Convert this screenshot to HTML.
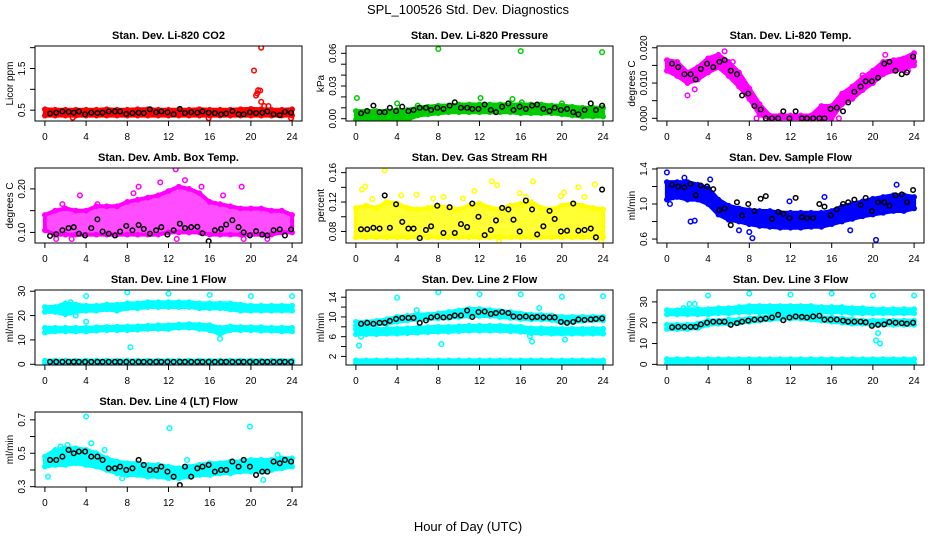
<!DOCTYPE html>
<html><head><meta charset="utf-8"><style>
html,body{margin:0;padding:0;background:#fff;}
svg{display:block;font-family:"Liberation Sans",sans-serif;}
</style></head><body>
<svg id="chart" width="936" height="540" viewBox="0 0 936 540" xmlns="http://www.w3.org/2000/svg">
<rect width="936" height="540" fill="#fff"/>
<text x="468" y="14" text-anchor="middle" font-size="13">SPL_100526  Std. Dev. Diagnostics</text>
<text x="468" y="531" text-anchor="middle" font-size="13">Hour of Day (UTC)</text>
<g id="panels"></g>
</svg>
<script>
const hrs=[0,1,2,3,4,5,6,7,8,9,10,11,12,13,14,15,16,17,18,19,20,21,22,23,24];
const bh=[0.5,1.1,1.7,2.3,2.8,3.3,3.9,4.5,5.1,5.6,6.2,6.8,7.3,7.9,8.5,9.1,9.6,10.2,10.8,11.3,11.9,12.5,13.1,13.6,14.2,14.8,15.3,15.9,16.5,17.1,17.6,18.2,18.8,19.3,19.9,20.5,21.1,21.6,22.2,22.8,23.3,23.9];
const xTicks=[0,4,8,12,16,20,24];

// P1 CO2
const p1Lo=[0.37,0.37,0.37,0.37,0.37,0.37,0.37,0.37,0.37,0.37,0.37,0.37,0.37,0.37,0.37,0.37,0.37,0.37,0.37,0.37,0.37,0.37,0.37,0.37,0.37];
const p1Hi=[0.52,0.51,0.51,0.51,0.51,0.51,0.52,0.51,0.51,0.52,0.52,0.51,0.51,0.51,0.51,0.52,0.51,0.51,0.51,0.52,0.53,0.52,0.51,0.51,0.52];
const p1OutX=[20.3,21.0,20.5,20.7,20.9,21.0,21.3,21.7,20.6,15.9,23.9,2.7];
const p1OutY=[1.45,2.0,0.85,0.98,0.97,0.7,0.6,0.6,0.9,0.31,0.31,0.32];
const p1Blk=[0.42,0.44,0.47,0.46,0.44,0.47,0.40,0.44,0.43,0.44,0.47,0.47,0.47,0.41,0.43,0.44,0.43,0.52,0.45,0.47,0.45,0.40,0.53,0.43,0.45,0.44,0.47,0.44,0.43,0.40,0.42,0.48,0.40,0.40,0.45,0.43,0.44,0.47,0.40,0.38,0.46,0.44];
// P2 Pressure
const p2Lo=[-0.001,-0.001,-0.001,-0.001,-0.001,-0.001,0.003,0.004,0.005,0.006,0.006,0.006,0.006,0.006,0.006,0.006,0.005,0.005,0.005,0.005,0.004,0.003,0.002,0.002,0.002];
const p2Hi=[0.007,0.007,0.007,0.007,0.008,0.008,0.010,0.011,0.012,0.012,0.013,0.013,0.013,0.013,0.013,0.013,0.013,0.013,0.013,0.012,0.012,0.011,0.010,0.010,0.010];
const p2OutX=[0.1,4.0,8.0,12.1,15.2,16.0,16.1,20.0,23.9,6.0];
const p2OutY=[0.019,0.014,0.064,0.019,0.018,0.062,0.015,0.014,0.061,0.012];
const p2Blk=[0.005,0.007,0.012,0.006,0.006,0.010,0.007,0.011,0.007,0.008,0.010,0.010,0.008,0.010,0.009,0.012,0.015,0.010,0.010,0.009,0.009,0.013,0.008,0.006,0.011,0.014,0.008,0.011,0.009,0.012,0.013,0.009,0.007,0.010,0.008,0.009,0.006,0.004,0.008,0.014,0.008,0.012];
// P3 Temp
const p3Lo=[0.0135,0.012,0.010,0.011,0.013,0.0145,0.012,0.009,0.0055,0.001,0,0,0,0,0,0,0,0.004,0.0055,0.008,0.010,0.0125,0.0135,0.014,0.015];
const p3Hi=[0.0165,0.016,0.013,0.0145,0.017,0.018,0.016,0.013,0.0085,0.004,0.0008,0.0008,0.0008,0.0008,0.0008,0.0035,0.0035,0.007,0.009,0.0115,0.0135,0.016,0.0165,0.017,0.0185];
const p3OutX=[2.0,2.7,5.6,6.4,8.7,16.7,19.0,21.2,23.4,24.0];
const p3OutY=[0.0065,0.0082,0.0190,0.0160,0.0000,0.0000,0.0122,0.0180,0.0135,0.0160];
const p3Blk=[0.0155,0.0145,0.0125,0.0125,0.0110,0.0140,0.0155,0.0145,0.0160,0.0165,0.0135,0.0125,0.0065,0.0070,0.0035,0.0025,0,0,0,0.002,0,0.002,0,0,0,0,0,0.0027,0.0030,0.0020,0.0045,0.0075,0.0090,0.0105,0.0105,0.0115,0.0155,0.0160,0.0135,0.0125,0.0130,0.0175];
// P4 Amb Box Temp
const p4Lo=[0.105,0.095,0.095,0.095,0.095,0.095,0.095,0.095,0.095,0.095,0.095,0.095,0.10,0.10,0.10,0.10,0.095,0.095,0.095,0.095,0.095,0.095,0.095,0.10,0.10];
const p4Hi=[0.14,0.15,0.155,0.15,0.15,0.16,0.16,0.16,0.17,0.175,0.18,0.185,0.195,0.205,0.20,0.19,0.17,0.165,0.16,0.155,0.155,0.155,0.15,0.15,0.14];
const p4OutX=[12.7,11.2,9.1,19.1,17.3,13.6,3.4,1.7,5.1,2.6,12.8,21.6,19.3,1.1,8.6,15.2];
const p4OutY=[0.245,0.215,0.205,0.205,0.185,0.22,0.185,0.165,0.165,0.085,0.085,0.085,0.085,0.085,0.19,0.205];
const p4Blk=[0.092,0.096,0.105,0.110,0.112,0.097,0.093,0.110,0.130,0.102,0.097,0.093,0.102,0.115,0.105,0.117,0.108,0.097,0.105,0.112,0.095,0.105,0.120,0.110,0.112,0.113,0.098,0.080,0.105,0.108,0.118,0.128,0.112,0.100,0.093,0.103,0.095,0.093,0.105,0.107,0.093,0.107];
// P5 Gas Stream RH
const p5Lo=[0.072,0.072,0.072,0.072,0.072,0.072,0.072,0.072,0.072,0.072,0.072,0.072,0.072,0.072,0.072,0.072,0.072,0.072,0.072,0.072,0.072,0.072,0.072,0.072,0.072];
const p5Hi=[0.112,0.115,0.112,0.12,0.118,0.112,0.11,0.112,0.115,0.112,0.11,0.115,0.118,0.112,0.11,0.115,0.118,0.12,0.112,0.11,0.115,0.118,0.115,0.112,0.11];
const p5OutX=[2.8,13.2,17.2,0.9,0.6,11.5,13.7,15.9,21.6,23.2,5.9,4.4,8.5,10.4,19.9,22.2,16.5,1.6,7.5,20.2,13.9,23.8];
const p5OutY=[0.163,0.148,0.148,0.141,0.137,0.135,0.143,0.132,0.140,0.144,0.130,0.129,0.127,0.125,0.128,0.127,0.127,0.124,0.125,0.133,0.067,0.066];
const p5Blk=[0.083,0.083,0.085,0.084,0.129,0.085,0.117,0.093,0.084,0.084,0.071,0.082,0.087,0.115,0.078,0.113,0.078,0.090,0.086,0.118,0.100,0.075,0.082,0.095,0.112,0.110,0.096,0.080,0.122,0.110,0.076,0.087,0.108,0.097,0.080,0.081,0.118,0.081,0.082,0.084,0.072,0.137];
// P6 Sample Flow
const p6Lo=[1.05,1.08,1.05,1.05,1.00,0.88,0.82,0.80,0.77,0.75,0.74,0.73,0.73,0.73,0.74,0.74,0.77,0.80,0.83,0.86,0.88,0.90,0.92,0.92,0.95];
const p6Hi=[1.25,1.25,1.25,1.22,1.18,1.05,0.98,0.95,0.93,0.92,0.92,0.90,0.90,0.90,0.90,0.90,0.92,0.97,1.00,1.03,1.06,1.08,1.10,1.10,1.08];
const p6OutX=[0,1.7,2.3,2.7,4.2,8.0,8.3,20.3,22.3,15.3,7.0,17.8,0.3,11.9];
const p6OutY=[1.36,1.30,0.80,0.81,1.28,0.68,0.61,0.59,1.22,1.08,0.70,0.70,1.00,1.03];
const p6Blk=[1.22,1.20,1.19,1.23,1.10,1.21,1.20,1.17,0.93,0.95,0.76,1.02,0.87,1.00,0.92,1.06,1.09,0.83,0.91,0.89,0.84,1.07,0.85,0.84,0.84,1.00,0.97,0.87,0.94,1.00,1.02,1.05,0.99,1.07,0.92,1.02,1.02,0.98,1.10,1.11,1.02,1.16];
// P7 Line 1 Flow
const p7aLo=[21.5,21.5,20.5,21.5,22,22,22.5,22,23,23,23.5,23.5,23.5,23.5,23.5,23,23,23,22.5,22,22,22,22,22,22];
const p7aHi=[23.5,23.5,25,24.5,24,24,24.5,24.5,25,25,25.5,25.5,25.5,25.5,25.5,25,25,25,25,24.5,24,24,24,24,24];
const p7bLo=[13,13.5,13.5,13.5,13.5,13.8,14,14,14,14.2,14.5,14.5,14.5,15,15,14.5,14,12.5,14,14,14,13.8,13.8,13.5,13.5];
const p7bHi=[15,15,15,15,15,15.2,15.3,15.4,15.5,15.6,15.8,16,16,16.3,16.5,16.2,16,15,15.5,15.3,15.2,15.2,15,15,15];
const p7cLo=[0.3,0.3,0.3,0.3,0.3,0.3,0.3,0.3,0.3,0.3,0.3,0.3,0.3,0.3,0.3,0.3,0.3,0.3,0.3,0.3,0.3,0.3,0.3,0.3,0.3];
const p7cHi=[1.5,1.5,1.5,1.5,1.5,1.5,1.5,1.5,1.5,1.5,1.5,1.5,1.5,1.5,1.5,1.5,1.5,1.5,1.5,1.5,1.5,1.5,1.5,1.5,1.5];
const p7OutX=[4,8,12,16,20,24,4,8.3,17,2.5,3,1.7,0.2];
const p7OutY=[28,29.5,29,28.5,28,28,17.5,7,10.5,25.5,20,24,13.5];
const p7Blk=[1,1,1,1,1,1,1,1,1,1,1,1,1,1,1,1,1,1,1,1,1,1,1,1,1,1,1,1,1,1,1,1,1,1,1,1,1,1,1,1,1,1];
// P8 Line 2 Flow
const p8aLo=[8.2,8.3,8.5,8.7,9,9.3,9.5,9.6,9.7,9.8,10,10.2,10.2,10.2,10,9.8,9.6,9.5,9.5,9.4,8.9,9,9.2,9.3,9.3];
const p8aHi=[9,9,9.2,9.5,10,10.2,10.5,10.5,10.7,11,11.3,11.6,11.6,11.4,11.2,11,10.7,10.5,10.4,10.3,10,10,10,10,10];
const p8bLo=[6.5,6.5,6.5,6.6,6.6,6.7,6.8,6.9,7,7,7.1,7.2,7.2,7.2,7.2,7.1,7,6.7,6.7,6.6,6.6,6.6,6.6,6.6,6.6];
const p8bHi=[7.5,7.5,7.5,7.6,7.6,7.7,7.8,7.9,8,8,8.1,8.2,8.2,8.2,8.2,8.1,8,7.7,7.7,7.6,7.6,7.6,7.6,7.6,7.6];
const p8cLo=[0.6,0.6,0.6,0.6,0.6,0.6,0.6,0.6,0.6,0.6,0.6,0.6,0.6,0.6,0.6,0.6,0.6,0.6,0.6,0.6,0.6,0.6,0.6,0.6,0.6];
const p8cHi=[1.2,1.2,1.2,1.2,1.2,1.2,1.2,1.2,1.2,1.2,1.2,1.2,1.2,1.2,1.2,1.2,1.2,1.2,1.2,1.2,1.2,1.2,1.2,1.2,1.2];
const p8OutX=[4,8,12,16,20,24,0.3,8.3,17.1,20.3,5.9,17.8,0.5,16.9];
const p8OutY=[13.9,15,14.6,14.6,14.1,14.2,4.2,4.5,5,5.4,11.4,11.8,6,6.1];
const p8Blk=[8.6,8.8,8.6,8.8,8.8,9.2,9.6,9.8,9.8,9.8,8.8,9.3,9.9,10.1,9.9,10.0,10.3,10.3,11.3,10.0,11.0,11.1,10.6,10.8,11.0,10.8,10.1,10.0,10.1,9.9,10.0,9.9,9.9,9.9,9.0,8.8,9.0,9.5,9.4,9.5,9.6,9.7];
// P9 Line 3 Flow
const p9aLo=[24,24,24,24,24,24.5,24.5,25,25,25,25,25,25,25,25,25,25,25,24.5,24.5,24.5,24.5,24.5,24.5,24.5];
const p9aHi=[26,26,26.5,26.5,26.5,27,27,27.5,28,28,28,28,28,28,28,27.5,27.5,27.5,27,27,26.5,26.5,26.5,26.5,26.5];
const p9bLo=[17,17,17,17.5,19,19.5,19.5,20,20.5,21,21.5,22,22,22,21.5,21,20.5,20,19.5,19.5,19,19,19,19,19];
const p9bHi=[19,19,19,19.5,21,21,21.5,21.5,22,22.5,23,24,24,23.5,23,22.5,22.5,22,21.5,21,21,21,21,21,21];
const p9cLo=[0.5,0.5,0.5,0.5,0.5,0.5,0.5,0.5,0.5,0.5,0.5,0.5,0.5,0.5,0.5,0.5,0.5,0.5,0.5,0.5,0.5,0.5,0.5,0.5,0.5];
const p9cHi=[2.5,2.5,2.5,2.5,2.5,2.5,2.5,2.5,2.5,2.5,2.5,2.5,2.5,2.5,2.5,2.5,2.5,2.5,2.5,2.5,2.5,2.5,2.5,2.5,2.5];
const p9OutX=[4,8,12,16,20,24,2.2,1.6,20.3,20.7,20.5,2.7,5.2];
const p9OutY=[33,34,33.5,34,33,33,29,27,11.5,10,15,29,0];
const p9Blk=[17.8,18.0,18.0,18.0,18.0,19.2,20.0,20.5,20.5,20.5,19.0,19.8,20.5,21.0,21.5,21.6,22.0,22.5,23.8,21.2,22.5,23.0,22.8,22.5,23.0,23.3,21.5,21.5,21.5,21.0,20.5,20.5,20.5,20.2,18.5,19.0,19.2,20.3,20.0,19.8,19.5,20.0];
// P10 Line 4 (LT) Flow
const p10Lo=[0.42,0.43,0.43,0.44,0.43,0.42,0.40,0.38,0.37,0.37,0.36,0.36,0.35,0.35,0.36,0.37,0.37,0.38,0.38,0.39,0.39,0.39,0.40,0.41,0.42];
const p10Hi=[0.48,0.52,0.53,0.53,0.52,0.50,0.47,0.45,0.44,0.44,0.43,0.43,0.42,0.41,0.42,0.43,0.44,0.44,0.45,0.45,0.46,0.46,0.46,0.47,0.47];
const p10OutX=[4,12.1,19.9,4.5,0.3,13.8,21.2,7.5,22.6,2.2,1.5,5.8];
const p10OutY=[0.72,0.65,0.66,0.56,0.36,0.46,0.34,0.35,0.49,0.55,0.54,0.52];
const p10Blk=[0.46,0.46,0.48,0.52,0.50,0.51,0.51,0.48,0.48,0.46,0.41,0.41,0.42,0.40,0.41,0.46,0.43,0.40,0.40,0.42,0.39,0.36,0.31,0.42,0.36,0.41,0.42,0.43,0.39,0.40,0.40,0.45,0.42,0.46,0.42,0.37,0.39,0.39,0.45,0.44,0.46,0.45];

const panels=[
 {name:'co2',title:'Stan. Dev. Li-820 CO2',yl:'Licor ppm',col:0,row:0,ymin:0.24,ymax:2.04,ticks:[0.5,1.0,1.5,2.0],labels:[0.5,1.5],fmt:1,color:'#ff0000',bands:[[p1Lo,p1Hi]],ox:p1OutX,oy:p1OutY,blk:p1Blk,op:1},
 {name:'pressure',title:'Stan. Dev. Li-820 Pressure',yl:'kPa',col:1,row:0,ymin:-0.0021,ymax:0.0667,ticks:[0,0.01,0.02,0.03,0.04,0.05,0.06],labels:[0,0.03,0.06],fmt:2,color:'#00cc00',bands:[[p2Lo,p2Hi]],ox:p2OutX,oy:p2OutY,blk:p2Blk,op:1},
 {name:'temp',title:'Stan. Dev. Li-820 Temp.',yl:'degrees C',col:2,row:0,ymin:-0.00076,ymax:0.0205,ticks:[0,0.005,0.01,0.015,0.02],labels:[0,0.01,0.02],fmt:3,color:'#ff00ff',bands:[[p3Lo,p3Hi]],ox:p3OutX,oy:p3OutY,blk:p3Blk,op:1},
 {name:'amb-box',title:'Stan. Dev. Amb. Box Temp.',yl:'degrees C',col:0,row:1,ymin:0.0757,ymax:0.248,ticks:[0.10,0.15,0.20],labels:[0.10,0.20],fmt:2,color:'#ff00ff',bands:[[p4Lo,p4Hi]],ox:p4OutX,oy:p4OutY,blk:p4Blk,op:0.7},
 {name:'gas-rh',title:'Stan. Dev. Gas Stream RH',yl:'percent',col:1,row:1,ymin:0.0643,ymax:0.1663,ticks:[0.08,0.10,0.12,0.14,0.16],labels:[0.08,0.12,0.16],fmt:2,color:'#ffff00',bands:[[p5Lo,p5Hi]],ox:p5OutX,oy:p5OutY,blk:p5Blk,op:0.8},
 {name:'sample-flow',title:'Stan. Dev. Sample Flow',yl:'ml/min',col:2,row:1,ymin:0.555,ymax:1.411,ticks:[0.6,0.8,1.0,1.2,1.4],labels:[0.6,1.0,1.4],fmt:1,color:'#0000ff',bands:[[p6Lo,p6Hi]],ox:p6OutX,oy:p6OutY,blk:p6Blk,op:1},
 {name:'line1',title:'Stan. Dev. Line 1 Flow',yl:'ml/min',col:0,row:2,ymin:-0.3,ymax:30.5,ticks:[0,10,20,30],labels:[0,10,20,30],fmt:0,color:'#00ffff',bands:[[p7aLo,p7aHi],[p7bLo,p7bHi],[p7cLo,p7cHi]],ox:p7OutX,oy:p7OutY,blk:p7Blk,op:1},
 {name:'line2',title:'Stan. Dev. Line 2 Flow',yl:'ml/min',col:1,row:2,ymin:0.26,ymax:15.46,ticks:[2,4,6,8,10,12,14],labels:[2,6,10,14],fmt:0,color:'#00ffff',bands:[[p8aLo,p8aHi],[p8bLo,p8bHi],[p8cLo,p8cHi]],ox:p8OutX,oy:p8OutY,blk:p8Blk,op:1},
 {name:'line3',title:'Stan. Dev. Line 3 Flow',yl:'ml/min',col:2,row:2,ymin:-0.3,ymax:35.7,ticks:[0,10,20,30],labels:[0,10,20,30],fmt:0,color:'#00ffff',bands:[[p9aLo,p9aHi],[p9bLo,p9bHi],[p9cLo,p9cHi]],ox:p9OutX,oy:p9OutY,blk:p9Blk,op:1},
 {name:'line4',title:'Stan. Dev. Line 4 (LT) Flow',yl:'ml/min',col:0,row:3,ymin:0.298,ymax:0.747,ticks:[0.3,0.4,0.5,0.6,0.7],labels:[0.3,0.5,0.7],fmt:1,color:'#00ffff',bands:[[p10Lo,p10Hi]],ox:p10OutX,oy:p10OutY,blk:p10Blk,op:1}
];
const colL=[35,346,657], colW=267, rowT=[46,168,290,412], rowH=75;
const NS='http://www.w3.org/2000/svg';
const root=document.getElementById('panels');
function mk(tag,attrs,parent){const e=document.createElementNS(NS,tag);for(const k in attrs)e.setAttribute(k,attrs[k]);parent.appendChild(e);return e;}
panels.forEach(p=>{
  const L=colL[p.col],T=rowT[p.row],W=colW,H=rowH;
  const xs=h=>L+(h+0.96)/25.92*W;
  const ys=v=>T+H-(v-p.ymin)/(p.ymax-p.ymin)*H;
  const g=mk('g',{},root);
  
  
  const clipId='clip-'+p.name;
  const cp=mk('clipPath',{id:clipId},g); mk('rect',{x:L,y:T,width:W,height:H},cp);
  const d=mk('g',{'clip-path':'url(#'+clipId+')'},g);
  
  
  p.bands.forEach((b,bi)=>{
    const lo=b[0],hi=b[1];let pts=[];
    hrs.forEach((h,i)=>pts.push(xs(h).toFixed(1)+','+ys(lo[i]).toFixed(1)));
    for(let i=hrs.length-1;i>=0;i--)pts.push(xs(hrs[i]).toFixed(1)+','+ys(hi[i]).toFixed(1));
    const poly=mk('polygon',{points:pts.join(' '),fill:p.color,stroke:p.color,'stroke-width':4,'stroke-linejoin':'round','fill-opacity':p.op},d);
    
    
    hrs.forEach((h,i)=>{
      [lo[i],hi[i]].forEach(v=>{const c=mk('circle',{cx:xs(h),cy:ys(v),r:2.2,fill:'none',stroke:p.color,'stroke-width':1.4},d);
      
      });
    });
  });
  p.ox.forEach((h,i)=>{const c=mk('circle',{cx:xs(h),cy:ys(p.oy[i]),r:2.3,fill:'none',stroke:p.color,'stroke-width':1.5},d);
    
    });
  bh.forEach((h,i)=>{const c=mk('circle',{cx:xs(h),cy:ys(p.blk[i]),r:2.3,fill:'none',stroke:'#000','stroke-width':1.5},d);
    
    });
  const box=mk('rect',{x:L,y:T,width:W,height:H,fill:'none',stroke:'#000','stroke-width':1},g);
  
  
  const t=mk('text',{x:L+W/2,y:T-7,'text-anchor':'middle','font-size':11,'font-weight':'bold'},g);t.textContent=p.title;
  
  
  xTicks.forEach(h=>{mk('line',{x1:xs(h),x2:xs(h),y1:T+H,y2:T+H+5,stroke:'#000'},g);
    const tx=mk('text',{x:xs(h),y:T+H+19,'text-anchor':'middle','font-size':10},g);tx.textContent=h;
    
    });
  p.ticks.forEach(v=>{mk('line',{x1:L-5,x2:L,y1:ys(v),y2:ys(v),stroke:'#000'},g);});
  p.labels.forEach(v=>{const tx=mk('text',{x:0,y:0,'text-anchor':'middle','font-size':10,transform:'translate('+(L-10)+','+ys(v)+') rotate(-90)'},g);
    tx.textContent=v.toFixed(p.fmt);
    
    });
  const yl=mk('text',{x:0,y:0,'text-anchor':'middle','font-size':10,transform:'translate('+(L-22)+','+(T+H/2)+') rotate(-90)'},g);
  yl.textContent=p.yl;
  
  
});
</script>
</body></html>
